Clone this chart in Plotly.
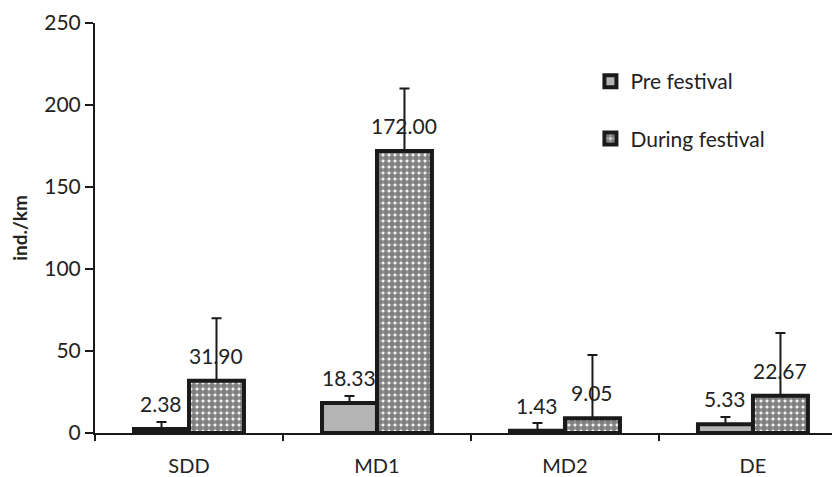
import plotly.graph_objects as go

categories = ["SDD", "MD1", "MD2", "DE"]
pre_values = [2.38, 18.33, 1.43, 5.33]
during_values = [31.90, 172.00, 9.05, 22.67]
pre_errors = [4.3, 4.3, 4.6, 4.4]
during_errors = [38.0, 38.0, 38.5, 38.3]
y_ticks = [0, 50, 100, 150, 200, 250]

FONT = "Lato, Liberation Sans, sans-serif"
INK = "#1a1a1a"

fig = go.Figure()
fig.add_trace(go.Bar(
    name="Pre festival", x=categories, y=pre_values,
    marker=dict(color="#b4b4b4", line=dict(color=INK, width=4)),
    error_y=dict(type="data", array=pre_errors, arrayminus=[0]*4, symmetric=False,
                 color=INK, thickness=2, width=5),
    legendgroup="a",
))
fig.add_trace(go.Bar(
    name="During festival", x=categories, y=during_values,
    marker=dict(color="white", line=dict(color=INK, width=4),
                pattern=dict(shape=".", fgcolor="#000000", bgcolor="white",
                             size=6, solidity=0.77)),
    error_y=dict(type="data", array=during_errors, arrayminus=[0]*4, symmetric=False,
                 color=INK, thickness=2, width=5),
    legendgroup="b",
))

# value labels above bars
for vals, shift in ((pre_values, -27.5), (during_values, 27.5)):
    for c, v in zip(categories, vals):
        fig.add_annotation(x=c, y=v, text=f"{v:.2f}", showarrow=False,
                           xshift=shift, yshift=11, yanchor="bottom",
                           font=dict(size=21, color="#222222", family=FONT))

fig.update_layout(
    width=832, height=469,
    margin=dict(l=87, r=0, t=15, b=44),
    paper_bgcolor="white", plot_bgcolor="white",
    font=dict(family=FONT, color="#222222", size=20),
    barmode="group", bargap=0.415, bargroupgap=0,
    showlegend=True,
    legend=dict(x=0.665, y=0.907, xanchor="left", yanchor="top",
                font=dict(size=21, family=FONT), tracegroupgap=27,
                bgcolor="rgba(0,0,0,0)"),
    xaxis=dict(range=[-0.5, 3.463], showline=True, linecolor=INK, linewidth=2,
               ticks="outside", tickson="boundaries", ticklen=6, tickcolor=INK,
               tickwidth=1.5, ticklabelstandoff=14, tickfont=dict(size=20),
               showgrid=False, zeroline=False, automargin=False),
    yaxis=dict(range=[0, 250], tickvals=y_ticks, showline=True, linecolor=INK,
               linewidth=2, ticks="outside", ticklen=8, tickcolor=INK,
               tickwidth=1.5, tickfont=dict(size=21), showgrid=False, zeroline=False,
               automargin=False,
               title=dict(text="<b>ind./km</b>", font=dict(size=19), standoff=12)),
)

fig.write_html("out.html")
